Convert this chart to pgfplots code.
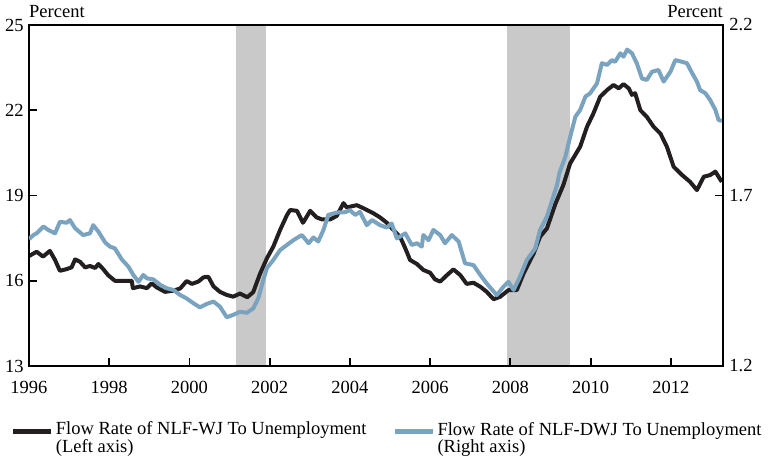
\documentclass[border=0pt]{standalone}
\usepackage{fontspec}
\setmainfont{Liberation Serif}
\usepackage{pgfplots}
\usepackage{pgfplotstable}
\pgfplotsset{compat=1.18}

\definecolor{wjblack}{RGB}{35,31,32}
\definecolor{dwjblue}{RGB}{122,163,192}
\definecolor{recess}{RGB}{201,201,201}

% NLF-WJ to unemployment (left axis, percent)
\pgfplotstableread{
year val
1996.00 16.87
1996.19 17.02
1996.35 16.85
1996.52 17.05
1996.65 16.73
1996.77 16.35
1996.94 16.41
1997.06 16.47
1997.15 16.75
1997.27 16.67
1997.40 16.47
1997.52 16.52
1997.65 16.45
1997.73 16.59
1997.85 16.41
1997.97 16.20
1998.14 16.00
1998.44 16.00
1998.56 16.00
1998.59 15.74
1998.77 15.80
1998.94 15.74
1999.06 15.91
1999.18 15.77
1999.39 15.61
1999.60 15.65
1999.77 15.73
1999.93 15.99
2000.06 15.89
2000.22 15.97
2000.35 16.12
2000.47 16.14
2000.60 15.80
2000.76 15.61
2000.93 15.50
2001.09 15.44
2001.26 15.55
2001.44 15.42
2001.59 15.60
2001.76 16.25
2001.93 16.79
2002.09 17.20
2002.26 17.79
2002.43 18.31
2002.51 18.49
2002.68 18.46
2002.83 18.04
2003.01 18.46
2003.17 18.23
2003.30 18.16
2003.51 18.16
2003.67 18.28
2003.84 18.73
2003.92 18.58
2004.17 18.66
2004.34 18.55
2004.59 18.37
2004.75 18.23
2004.92 18.04
2005.08 17.79
2005.25 17.55
2005.38 17.14
2005.50 16.73
2005.67 16.59
2005.83 16.38
2006.00 16.28
2006.12 16.05
2006.25 15.97
2006.42 16.20
2006.58 16.40
2006.75 16.20
2006.91 15.89
2007.08 15.93
2007.25 15.79
2007.41 15.61
2007.58 15.35
2007.75 15.44
2007.95 15.67
2008.16 15.67
2008.33 16.26
2008.58 16.96
2008.74 17.55
2008.91 17.84
2009.12 18.70
2009.32 19.37
2009.49 20.13
2009.74 20.72
2009.91 21.42
2010.07 21.89
2010.24 22.48
2010.41 22.71
2010.57 22.89
2010.70 22.77
2010.82 22.92
2010.95 22.77
2011.03 22.54
2011.11 22.60
2011.24 22.00
2011.40 21.77
2011.57 21.42
2011.74 21.18
2011.90 20.72
2012.07 20.01
2012.28 19.72
2012.48 19.48
2012.65 19.19
2012.82 19.66
2012.98 19.72
2013.11 19.84
2013.27 19.48
}\wjtable

% NLF-DWJ to unemployment (right axis, percent)
\pgfplotstableread{
year val
1996.00 1.572
1996.11 1.584
1996.19 1.589
1996.36 1.609
1996.48 1.599
1996.65 1.589
1996.77 1.623
1996.94 1.620
1997.02 1.628
1997.15 1.604
1997.35 1.584
1997.52 1.589
1997.60 1.613
1997.73 1.594
1997.90 1.562
1998.02 1.550
1998.14 1.545
1998.31 1.513
1998.48 1.491
1998.60 1.467
1998.73 1.447
1998.85 1.467
1998.94 1.457
1999.10 1.454
1999.27 1.438
1999.43 1.428
1999.60 1.423
1999.77 1.408
1999.93 1.398
2000.10 1.384
2000.26 1.372
2000.43 1.382
2000.60 1.389
2000.76 1.374
2000.93 1.343
2001.09 1.350
2001.26 1.359
2001.43 1.356
2001.59 1.369
2001.72 1.400
2001.84 1.452
2001.93 1.487
2002.09 1.511
2002.26 1.540
2002.43 1.555
2002.59 1.569
2002.80 1.584
2002.97 1.560
2003.09 1.577
2003.21 1.565
2003.34 1.599
2003.46 1.643
2003.67 1.650
2003.88 1.651
2004.00 1.657
2004.13 1.643
2004.25 1.652
2004.42 1.613
2004.55 1.628
2004.75 1.613
2004.92 1.606
2005.04 1.618
2005.17 1.574
2005.38 1.589
2005.54 1.555
2005.67 1.560
2005.79 1.550
2005.83 1.584
2005.96 1.569
2006.08 1.599
2006.25 1.584
2006.37 1.560
2006.54 1.584
2006.71 1.565
2006.87 1.501
2007.08 1.496
2007.25 1.467
2007.41 1.442
2007.66 1.408
2007.83 1.433
2007.95 1.447
2008.08 1.423
2008.24 1.462
2008.41 1.511
2008.62 1.545
2008.74 1.599
2008.91 1.638
2009.03 1.682
2009.16 1.730
2009.22 1.765
2009.37 1.814
2009.49 1.872
2009.62 1.931
2009.74 1.951
2009.87 1.990
2009.99 2.000
2010.16 2.029
2010.28 2.088
2010.41 2.083
2010.53 2.097
2010.61 2.092
2010.74 2.117
2010.82 2.107
2010.91 2.128
2011.03 2.117
2011.15 2.088
2011.28 2.043
2011.40 2.039
2011.53 2.063
2011.69 2.068
2011.82 2.034
2011.99 2.063
2012.11 2.097
2012.28 2.092
2012.40 2.088
2012.53 2.059
2012.65 2.034
2012.73 2.009
2012.86 2.000
2012.98 1.980
2013.11 1.951
2013.19 1.921
2013.27 1.919
}\dwjtable

\pgfplotsset{
  base/.style={
    scale only axis, width=694pt, height=341pt,
    xmin=1996, xmax=2013.3,
    clip mode=individual,
    tick align=inside, major tick length=8pt,
    every tick/.style={black, line width=1.8pt},
    axis line style={black, line width=2.3pt},
    /pgf/number format/assume math mode=true,
    /pgf/number format/1000 sep={},
  },
}

\begin{document}
\fontsize{18.5}{15}\selectfont
\begin{tikzpicture}
\useasboundingbox (-29pt,-95pt) rectangle (739pt,366pt);

\begin{axis}[base,
    ymin=13, ymax=25,
    ytick={13,16,19,22,25},
    xtick={1996,1998,...,2012},
    xtick pos=bottom, ytick pos=left,
    xticklabel style={yshift=-9pt},
    yticklabel style={xshift=1pt},
    axis on top,
]
% recession bands
\addplot[fill=recess, draw=none, forget plot] coordinates {(2001.17,13) (2001.17,25) (2001.92,25) (2001.92,13)} -- cycle;
\addplot[fill=recess, draw=none, forget plot] coordinates {(2007.92,13) (2007.92,25) (2009.48,25) (2009.48,13)} -- cycle;
\addplot[wjblack, line width=4pt, line join=round] table[x=year, y=val] {\wjtable};
\node[anchor=base west, inner sep=0pt] at (rel axis cs:0,1) [yshift=7pt] {Percent};
\end{axis}

\begin{axis}[base,
    ymin=1.2, ymax=2.2,
    ytick={1.2,1.7,2.2},
    axis y line*=right, axis x line=none,
    yticklabel style={/pgf/number format/fixed, /pgf/number format/precision=1},
    legend style={at={(-0.026,-0.158)}, anchor=north west, draw=none, fill=none,
      inner sep=0pt, outer sep=0pt,
      legend columns=2, cells={align=left, anchor=west, inner xsep=4pt},
      /tikz/every even column/.append style={column sep=24pt}},
    legend image code/.code={\draw[#1, line width=5pt] (0pt,7pt) -- (38pt,7pt);},
]
\addlegendimage{wjblack}
\addlegendentry{Flow Rate of NLF-WJ To Unemployment\\(Left axis)}
\addplot[dwjblue, line width=4pt, line join=round] table[x=year, y=val] {\dwjtable};
\addlegendentry{Flow Rate of NLF-DWJ To Unemployment\\(Right axis)}
\node[anchor=base east, inner sep=0pt] at (rel axis cs:1,1) [yshift=7pt] {Percent};
\end{axis}
\end{tikzpicture}
\end{document}
